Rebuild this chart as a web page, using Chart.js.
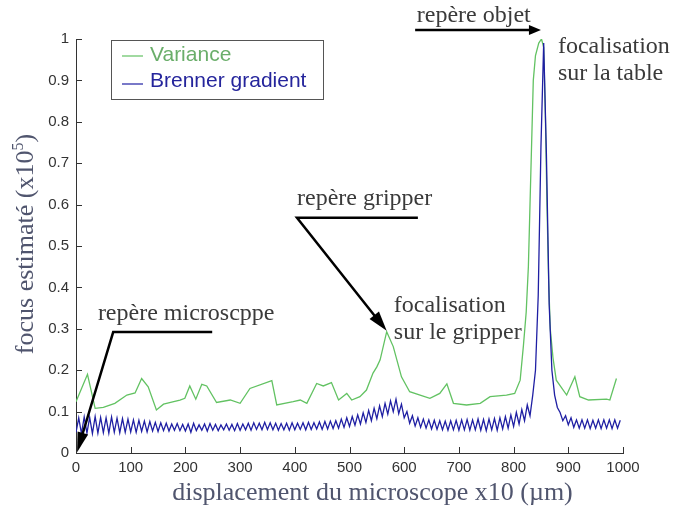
<!DOCTYPE html>
<html>
<head>
<meta charset="utf-8">
<script src="https://cdn.jsdelivr.net/npm/chart.js@4.4.1/dist/chart.umd.min.js"></script>
<style>
html, body { margin: 0; padding: 0; background: #fff; }
</style>
</head>
<body>
<canvas id="chart" width="678" height="517"></canvas>
<script>
// Variance curve (green)
const greenX = [0, 21, 35, 50, 71, 93, 108, 120, 132, 147, 160, 190, 199, 208, 219, 230, 239, 257, 282, 300,
  318, 358, 367, 397, 410, 422, 440, 452, 467, 480, 495, 504, 519, 531, 543, 550, 556, 568, 580, 595,
  610, 629, 647, 665, 678, 690, 714, 739, 757, 787, 802, 812, 818, 823, 827, 830, 833, 836, 840, 846,
  851, 855, 858, 861, 864, 867, 872, 878, 897, 912, 921, 937, 970, 976, 988];
const greenY = [0.124, 0.19, 0.108, 0.11, 0.12, 0.14, 0.145, 0.18, 0.16, 0.104, 0.118, 0.128, 0.132, 0.162, 0.13, 0.166, 0.162, 0.122, 0.128, 0.12,
  0.156, 0.175, 0.116, 0.124, 0.128, 0.12, 0.168, 0.162, 0.17, 0.128, 0.144, 0.128, 0.136, 0.152, 0.193, 0.208, 0.225, 0.293, 0.257, 0.184,
  0.148, 0.14, 0.132, 0.144, 0.167, 0.12, 0.116, 0.12, 0.136, 0.14, 0.144, 0.176, 0.26, 0.34, 0.45, 0.6, 0.75, 0.9, 0.96, 0.99,
  1.0, 0.98, 0.82, 0.6, 0.42, 0.3, 0.23, 0.176, 0.14, 0.184, 0.136, 0.128, 0.13, 0.128, 0.18];

// Brenner gradient (blue), one sample every 5 units of displacement
const blueStep = 5;
const blueY = [
  0.05, 0.085, 0.047, 0.087, 0.048, 0.086, 0.047, 0.088, 0.048, 0.086,
  0.049, 0.085, 0.048, 0.087, 0.05, 0.084, 0.049, 0.083, 0.05, 0.082,
  0.051, 0.08, 0.05, 0.079, 0.052, 0.077, 0.051, 0.076, 0.053, 0.074,
  0.052, 0.073, 0.054, 0.072, 0.053, 0.07, 0.055, 0.071, 0.054, 0.069,
  0.053, 0.07, 0.05, 0.072, 0.054, 0.068, 0.055, 0.07, 0.053, 0.071,
  0.055, 0.069, 0.054, 0.068, 0.056, 0.07, 0.055, 0.069, 0.054, 0.071,
  0.055, 0.07, 0.056, 0.072, 0.055, 0.073, 0.057, 0.072, 0.056, 0.074,
  0.057, 0.073, 0.056, 0.072, 0.055, 0.071, 0.056, 0.072, 0.055, 0.073,
  0.056, 0.072, 0.057, 0.073, 0.056, 0.074, 0.057, 0.073, 0.058, 0.075,
  0.057, 0.076, 0.058, 0.077, 0.059, 0.078, 0.06, 0.082, 0.062, 0.085,
  0.064, 0.088, 0.067, 0.092, 0.07, 0.097, 0.074, 0.103, 0.078, 0.108,
  0.083, 0.114, 0.088, 0.12, 0.094, 0.126, 0.1, 0.13, 0.095, 0.118,
  0.085, 0.1, 0.072, 0.09, 0.065, 0.085, 0.062, 0.082, 0.06, 0.08,
  0.058, 0.079, 0.057, 0.078, 0.056, 0.077, 0.055, 0.078, 0.056, 0.079,
  0.055, 0.08, 0.056, 0.081, 0.055, 0.08, 0.056, 0.082, 0.055, 0.081,
  0.054, 0.082, 0.056, 0.083, 0.055, 0.085, 0.058, 0.088, 0.06, 0.092,
  0.064, 0.098, 0.07, 0.105, 0.078, 0.116, 0.09, 0.14, 0.2, 0.38,
  0.74, 0.99, 0.72, 0.36, 0.2, 0.14, 0.11, 0.098, 0.078, 0.09,
  0.068, 0.085, 0.062, 0.08, 0.06, 0.08, 0.06, 0.08, 0.059, 0.079,
  0.06, 0.08, 0.059, 0.08, 0.06, 0.08, 0.059, 0.08, 0.06, 0.079
];

const seriesNames = ['Variance', 'Brenner gradient'];
const xTicks = [0, 100, 200, 300, 400, 500, 600, 700, 800, 900, 1000];
const yTicks = [0, 0.1, 0.2, 0.3, 0.4, 0.5, 0.6, 0.7, 0.8, 0.9, 1];

const xTitle = 'displacement du microscope x10 (µm)';
const yTitle = ['focus estimaté (x10', '5', ')'];

// annotation texts, placed in data units
const notes = [
  { lines: ['repère objet'], x: 623, y: 1.042 },
  { lines: ['focalisation', 'sur la table'], x: 881, y: 0.966 },
  { lines: ['repère gripper'], x: 404, y: 0.599 },
  { lines: ['focalisation', 'sur le gripper'], x: 581, y: 0.341 },
  { lines: ['repère microscppe'], x: 40, y: 0.321 }
];
const pointers = [
  { path: [[620, 1.022], [850, 1.022]], head: [12, 10] },
  { path: [[625, 0.568], [404, 0.568], [568, 0.295]], head: [20, 12] },
  { path: [[249, 0.292], [68, 0.292], [2, 0.002]], head: [20, 11] }
];

const GREEN = '#62c262';
const BLUE = '#1f1fa3';
const serif = '"Liberation Serif", "Times New Roman", serif';
const sans = '"Liberation Sans", Arial, sans-serif';

const greenData = greenX.map((x, i) => ({ x: x, y: greenY[i] }));
const blueData = blueY.map((y, i) => ({ x: i * blueStep, y: y }));

function drawArrow(ctx, pts, len, wid) {
  const n = pts.length;
  const [x1, y1] = pts[n - 2];
  const [x2, y2] = pts[n - 1];
  const a = Math.atan2(y2 - y1, x2 - x1);
  ctx.beginPath();
  ctx.moveTo(pts[0][0], pts[0][1]);
  for (let i = 1; i < n - 1; i++) ctx.lineTo(pts[i][0], pts[i][1]);
  ctx.lineTo(x2 - Math.cos(a) * len * 0.7, y2 - Math.sin(a) * len * 0.7);
  ctx.stroke();
  ctx.beginPath();
  ctx.moveTo(x2, y2);
  ctx.lineTo(x2 - len * Math.cos(a) + wid / 2 * Math.sin(a), y2 - len * Math.sin(a) - wid / 2 * Math.cos(a));
  ctx.lineTo(x2 - len * Math.cos(a) - wid / 2 * Math.sin(a), y2 - len * Math.sin(a) + wid / 2 * Math.cos(a));
  ctx.closePath();
  ctx.fill();
}

const decorPlugin = {
  id: 'decor',
  afterDraw(chart) {
    const ctx = chart.ctx;
    const xs = chart.scales.x, ys = chart.scales.y;
    const area = chart.chartArea;
    ctx.save();

    // inward tick marks
    ctx.strokeStyle = '#333';
    ctx.lineWidth = 1;
    ctx.beginPath();
    xTicks.forEach(v => {
      const px = Math.round(xs.getPixelForValue(v)) + 0.5;
      ctx.moveTo(px, area.bottom);
      ctx.lineTo(px, area.bottom - 6);
    });
    yTicks.forEach(v => {
      const py = Math.round(ys.getPixelForValue(v)) + 0.5;
      ctx.moveTo(area.left, py);
      ctx.lineTo(area.left + 6, py);
    });
    ctx.stroke();

    // axis titles
    ctx.fillStyle = '#50556e';
    ctx.font = '26px ' + serif;
    ctx.textAlign = 'center';
    ctx.textBaseline = 'alphabetic';
    ctx.fillText(xTitle, (area.left + area.right) / 2 + 23, area.bottom + 47);

    ctx.save();
    ctx.translate(33, 244);
    ctx.rotate(-Math.PI / 2);
    ctx.textAlign = 'left';
    ctx.font = '26px ' + serif;
    const w1 = ctx.measureText(yTitle[0]).width;
    const w3 = ctx.measureText(yTitle[2]).width;
    ctx.font = '16px ' + serif;
    const w2 = ctx.measureText(yTitle[1]).width;
    let x0 = -(w1 + w2 + w3) / 2;
    ctx.font = '26px ' + serif;
    ctx.fillText(yTitle[0], x0, 0);
    ctx.font = '16px ' + serif;
    ctx.fillText(yTitle[1], x0 + w1, -10);
    ctx.font = '26px ' + serif;
    ctx.fillText(yTitle[2], x0 + w1 + w2, 0);
    ctx.restore();

    // legend box
    const lx = area.left + 35, ly = area.top + 1;
    ctx.fillStyle = '#fff';
    ctx.fillRect(lx, ly, 212, 59);
    ctx.strokeStyle = '#555';
    ctx.lineWidth = 1;
    ctx.strokeRect(lx + 0.5, ly + 0.5, 212, 59);
    const legendColors = [[GREEN, '#6aae6a'], [BLUE, '#25259c']];
    ctx.font = '21px ' + sans;
    ctx.textAlign = 'left';
    ctx.textBaseline = 'middle';
    seriesNames.forEach((name, i) => {
      const cy = ly + 15 + i * 26;
      ctx.strokeStyle = legendColors[i][0];
      ctx.lineWidth = 1.2;
      ctx.beginPath();
      ctx.moveTo(lx + 11, cy + 1 + i * 2);
      ctx.lineTo(lx + 32, cy + 1 + i * 2);
      ctx.stroke();
      ctx.fillStyle = legendColors[i][1];
      ctx.fillText(name, lx + 39, cy);
    });

    // annotations
    ctx.fillStyle = '#3a3a3a';
    ctx.font = '24px ' + serif;
    ctx.textBaseline = 'alphabetic';
    notes.forEach(n => {
      const px = xs.getPixelForValue(n.x), py = ys.getPixelForValue(n.y);
      n.lines.forEach((t, i) => ctx.fillText(t, px, py + i * 27));
    });
    ctx.strokeStyle = '#000';
    ctx.fillStyle = '#000';
    ctx.lineWidth = 2.5;
    ctx.lineJoin = 'miter';
    pointers.forEach(p => {
      const pts = p.path.map(([x, y]) => [xs.getPixelForValue(x), ys.getPixelForValue(y)]);
      drawArrow(ctx, pts, p.head[0], p.head[1]);
    });

    ctx.restore();
  }
};

new Chart(document.getElementById('chart').getContext('2d'), {
  type: 'line',
  data: {
    datasets: [
      { label: seriesNames[0], data: greenData, borderColor: GREEN, borderWidth: 1.3, pointRadius: 0, tension: 0, order: 2 },
      { label: seriesNames[1], data: blueData, borderColor: BLUE, borderWidth: 1.3, pointRadius: 0, tension: 0, order: 1 }
    ]
  },
  options: {
    responsive: false,
    animation: false,
    layout: { padding: { left: 0, right: 55, top: 39, bottom: 0 } },
    plugins: { legend: { display: false }, tooltip: { enabled: false } },
    scales: {
      x: {
        type: 'linear', min: 0, max: 1000,
        afterBuildTicks: s => { s.ticks = xTicks.map(v => ({ value: v })); },
        ticks: { color: '#333', padding: 6, font: { family: sans, size: 15 }, maxRotation: 0, autoSkip: false, callback: v => String(v) },
        grid: { display: false, drawTicks: false },
        border: { color: '#333', width: 1 },
        afterFit: s => { s.height = 64; }
      },
      y: {
        type: 'linear', min: 0, max: 1,
        afterBuildTicks: s => { s.ticks = yTicks.map(v => ({ value: v })); },
        ticks: { color: '#333', padding: 7, font: { family: sans, size: 15 }, autoSkip: false, callback: v => String(v) },
        grid: { display: false, drawTicks: false },
        border: { color: '#333', width: 1 },
        afterFit: s => { s.height = undefined; s.width = 76; }
      }
    }
  },
  plugins: [decorPlugin]
});
</script>
</body>
</html>
